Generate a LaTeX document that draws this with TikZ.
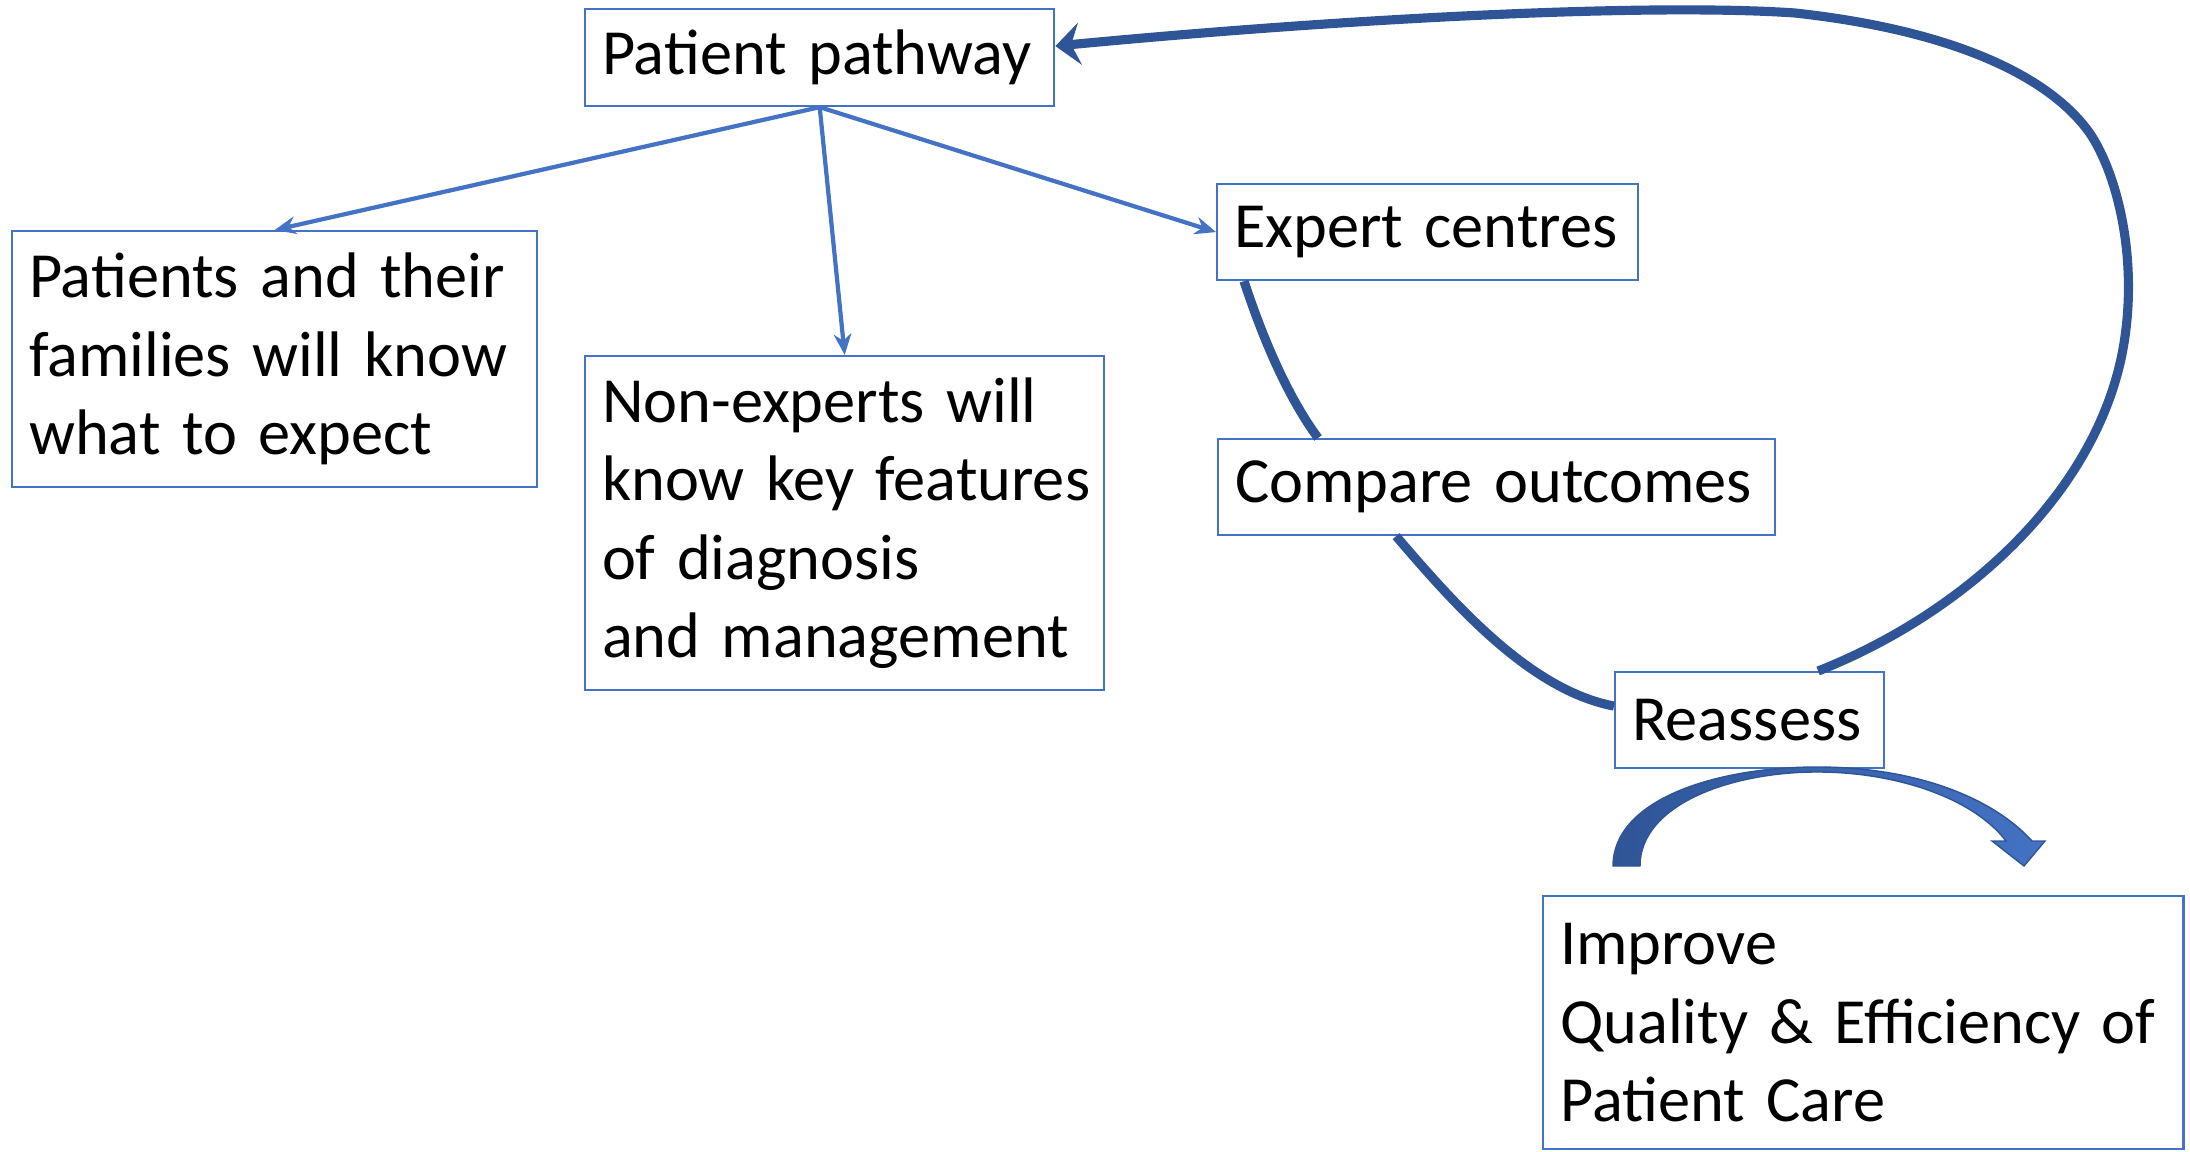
\documentclass[tikz,border=0pt]{standalone}
\usepackage{fontspec}
\setmainfont{Carlito}
\usetikzlibrary{arrows.meta}
\definecolor{boxblue}{HTML}{4472C4}
\definecolor{loopblue}{HTML}{2F5597}
\begin{document}
\begin{tikzpicture}[x=0.01cm, y=-0.01cm]

\tikzset{block/.style = {draw=boxblue, line width=0.6pt, fill=white, align=left, anchor=north west, inner xsep=0.17cm, inner ysep=0pt, font=\fontsize{18.3pt}{22.3pt}\selectfont}}
\tikzset{link/.style = {draw=boxblue, line width=1.2pt, -{Stealth[length=6pt,width=5pt]}}}
\tikzset{feedback/.style = {draw=loopblue, line width=2.6pt}}
\useasboundingbox (0,0) rectangle (2190,1152);
%boxes
\node[block, text width=4.35cm, minimum height=0.97cm] (pathway) at (584,8) {Patient pathway};
\node[block, text width=4.91cm, minimum height=2.56cm] (patients) at (11,230) {Patients and their\\families will know\\what to expect};
\node[block, text width=4.85cm, minimum height=3.34cm] (nonexp) at (584,355) {Non-experts will\\\mbox{know key features}\\of diagnosis\\and management};
\node[block, text width=3.87cm, minimum height=0.96cm] (expert) at (1216,183) {Expert centres};
\node[block, text width=5.23cm, minimum height=0.96cm] (compare) at (1217,438) {\mbox{Compare outcomes}};
\node[block, text width=2.35cm, minimum height=0.96cm] (reassess) at (1614,671) {Reassess};
\node[block, text width=6.06cm, minimum height=2.53cm] (improve) at (1542,895) {Improve\\\mbox{Quality \& Efficiency of}\\Patient Care};
%edges
\draw[link] (pathway.south) -- (patients.north);
\draw[link] (pathway.south) -- (nonexp.north);
\draw[link] (pathway.south) -- (expert.west);
\draw[feedback] ([xshift=0.28cm]expert.south west) .. controls (1265,345) and (1290,400) .. ([xshift=1.01cm]compare.north west);
\draw[feedback] ([xshift=1.79cm]compare.south west) .. controls (1455,605) and (1530,690) .. ([yshift=0.14cm]reassess.west);
\draw[feedback, -{Stealth[length=7pt,width=12pt,inset=2.5pt]}] ([xshift=2.04cm]reassess.north west) .. controls (1960,615) and (2090,500) .. (2121,359) .. controls (2140,270) and (2120,180) .. (2091,135) .. controls (2050,75) and (1950,30) .. (1795,13) .. controls (1650,3) and (1350,18) .. ([yshift=0.115cm]pathway.east);
%curved arrow
\shade[left color=loopblue, right color=boxblue, draw=loopblue, line width=0.4pt] (1613,866) .. controls (1613,800) and (1715,767) .. (1817,767) .. controls (1920,767) and (1995,800) .. (2032,841) -- (2045,841) -- (2024,866) -- (1992,841) -- (2006,841) .. controls (1975,800) and (1900,772) .. (1817,772) .. controls (1730,772) and (1640,805) .. (1640,866) -- cycle;
\end{tikzpicture}
\end{document}
